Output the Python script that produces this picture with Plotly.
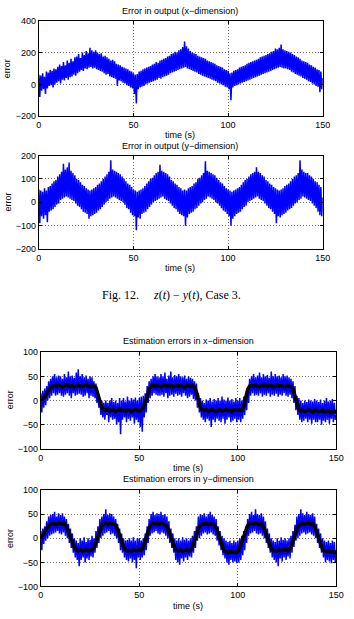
import numpy as np
import plotly.graph_objects as go

# ---------------- data ----------------
STEP_BLUE = 0.5   # s between samples of the noisy (blue) traces
STEP_BLACK = 1.0  # s between samples of the estimate (black) traces

X_TICKS = [0, 50, 100, 150]
Y1_TICKS = [-200, 0, 200, 400]
Y2_TICKS = [-200, -100, 0, 100, 200]
Y34_TICKS = [-100, -50, 0, 50, 100]

# Error in output (x-dimension)
out_x = [
    60, -80, 55, -40, 70, -30, 48, -60, 80, -25, 75, -10, 90, -5, 85, -20, 100, 0, 95, 10,
    110, 20, 125, 5, 115, 30, 140, 25, 120, 40, 150, 30, 135, 45, 160, 50, 145, 60, 170, 55,
    175, 70, 190, 80, 165, 90, 200, 85, 185, 100, 210, 95, 195, 105, 230, 110, 215, 100, 205, 105,
    215, 95, 200, 90, 190, 85, 195, 80, 175, 70, 180, 60, 170, 65, 160, 50, 150, 45, 155, 40,
    145, 35, 130, -10, 125, 25, 120, 20, 110, 10, 105, 5, 100, -5, 95, -10, 85, -20, 80, -25,
    70, -60, 60, -120, 65, -30, 80, -20, 85, -15, 95, -10, 100, 0, 105, 5, 110, 10, 115, 15,
    125, 20, 130, 25, 140, 30, 135, 40, 150, 35, 155, 45, 160, 50, 165, 55, 175, 60, 180, 70,
    190, 75, 195, 80, 205, 85, 200, 90, 215, 95, 220, 100, 235, 105, 270, 110, 240, 100, 225, 95,
    210, 90, 200, 85, 195, 80, 190, 75, 180, 65, 175, 60, 170, 55, 165, 50, 160, 45, 150, 40,
    145, 35, 140, 30, 135, 25, 130, 20, 120, 10, 115, 5, 110, 0, 105, -5, 95, -15, 90, -20,
    85, -30, 70, -100, 75, -20, 85, -10, 90, -5, 95, 0, 105, 5, 110, 10, 115, 15, 120, 20,
    130, 25, 135, 30, 140, 35, 145, 40, 150, 45, 155, 50, 160, 55, 170, 60, 175, 65, 180, 70,
    185, 75, 190, 80, 195, 85, 205, 90, 210, 95, 225, 100, 220, 105, 230, 110, 250, 105, 220, 100,
    215, 100, 210, 95, 205, 90, 200, 80, 190, 75, 185, 65, 175, 60, 170, 55, 160, 50, 150, 40,
    145, 35, 140, 30, 135, 20, 125, 15, 120, 5, 110, 0, 105, -10, 95, -15, 90, -50, 80, -30,
    40,
]

# Error in output (y-dimension)
out_y = [
    55, -90, 50, -60, 45, -70, 60, -55, 50, -85, 65, -40, 70, -35, 80, -30, 90, -20, 95, -10,
    110, -5, 120, 10, 130, 15, 165, 20, 140, 25, 150, 20, 170, 15, 135, 10, 125, 5, 115, -5,
    100, -15, 95, -20, 85, -30, 75, -40, 70, -45, 60, -50, 55, -70, 50, -60, 55, -55, 60, -50,
    65, -45, 75, -35, 80, -30, 90, -20, 100, -10, 110, 0, 120, 5, 130, 15, 180, 20, 140, 25,
    135, 20, 130, 15, 125, 10, 120, 5, 110, 0, 100, -10, 90, -25, 80, -30, 75, -45, 65, -55,
    55, -60, 50, -120, 45, -65, 50, -70, 55, -50, 60, -45, 70, -40, 80, -30, 90, -20, 100, -10,
    105, 0, 115, 5, 125, 10, 130, 15, 160, 20, 135, 25, 130, 15, 125, 10, 120, 5, 110, -5,
    95, -15, 90, -25, 80, -30, 75, -40, 65, -50, 60, -55, 50, -60, 55, -100, 50, -65, 60, -50,
    65, -45, 70, -40, 80, -30, 85, -25, 100, -15, 105, -5, 115, 0, 125, 10, 175, 15, 135, 25,
    130, 20, 125, 15, 120, 10, 115, 0, 105, -5, 95, -15, 85, -25, 80, -35, 70, -40, 60, -50,
    55, -60, 50, -100, 45, -70, 50, -60, 55, -50, 60, -45, 65, -40, 75, -30, 85, -20, 95, -15,
    100, 0, 110, 5, 120, 10, 125, 15, 130, 20, 150, 25, 130, 15, 125, 10, 115, 5, 110, -5,
    95, -15, 90, -25, 80, -30, 75, -40, 65, -50, 60, -90, 55, -60, 50, -65, 55, -55, 60, -50,
    70, -45, 75, -35, 80, -30, 90, -25, 100, -15, 110, -5, 115, 0, 125, 10, 180, 15, 140, 25,
    130, 20, 125, 15, 125, 10, 115, 5, 110, -5, 100, -15, 90, -25, 85, -40, 75, -55, 65, -60,
    20,
]

# Estimation errors in x-dimension: noisy (blue) and estimate (black)
est_x_noisy = [
    15, -25, 20, -15, 25, -10, 30, 0, 40, 5, 45, 10, 50, 15, 55, 10, 48, 12, 52, 15,
    50, 10, 45, 8, 55, 12, 48, 15, 60, 10, 50, 5, 52, 15, 47, 10, 58, 12, 65, 14,
    50, 12, 55, 8, 48, 10, 52, 15, 45, 5, 50, 10, 48, 8, 40, 5, 35, -5, 20, -15,
    5, -30, 0, -35, -5, -40, 0, -30, -5, -45, 0, -35, 5, -40, -3, -38, 0, -50, -5, -45,
    5, -70, 0, -40, 5, -35, -2, -45, 8, -38, 0, -42, 5, -35, 2, -48, 6, -40, 0, -45,
    5, -55, 8, -65, 10, -35, 15, -25, 30, -5, 40, 5, 45, 10, 50, 15, 55, 12, 50, 10,
    48, 10, 55, 12, 50, 8, 58, 15, 45, 5, 52, 10, 60, 12, 48, 8, 53, 14, 50, 10,
    55, 12, 50, 8, 48, 15, 52, 10, 45, 5, 50, 8, 47, 12, 45, 3, 40, 0, 35, -15,
    15, -25, 5, -35, 0, -40, -5, -45, 2, -38, 0, -42, 5, -55, -2, -40, 3, -45, 0, -38,
    5, -42, 0, -45, 8, -38, 2, -48, 0, -40, 6, -35, 0, -45, 3, -42, -2, -38, 5, -45,
    0, -40, 5, -45, 0, -38, 8, -30, 15, -20, 25, -5, 45, 10, 50, 15, 55, 10, 48, 12,
    52, 10, 58, 15, 48, 8, 55, 12, 50, 10, 53, 15, 47, 8, 60, 12, 50, 10, 55, 14,
    50, 8, 52, 12, 48, 10, 55, 15, 50, 10, 52, 8, 48, 12, 45, 5, 40, -5, 30, -20,
    10, -30, 5, -40, 0, -45, -5, -42, 0, -38, -3, -45, 2, -40, 0, -48, -2, -40, 3, -45,
    0, -45, -3, -40, 2, -50, -5, -42, 0, -45, 5, -40, -2, -48, 0, -38, 3, -45, -5, -40,
    -30,
]
est_x_smooth = [
    0, 3, 8, 15, 22, 27, 30, 31, 29, 32, 30, 28, 31, 33, 30, 29, 31, 28, 30, 32,
    30, 29, 31, 33, 30, 28, 31, 30, 27, 12, -5, -15, -19, -21, -18, -22, -20, -19, -23, -20,
    -18, -21, -20, -22, -19, -20, -23, -21, -18, -20, -22, -19, -15, -5, 10, 24, 30, 32, 29, 31,
    30, 28, 31, 33, 29, 30, 32, 28, 30, 31, 29, 32, 30, 27, 31, 30, 29, 32, 28, 18,
    0, -14, -20, -21, -19, -22, -20, -18, -21, -23, -20, -19, -22, -20, -18, -21, -20, -23, -19, -20,
    -21, -19, -20, -12, 8, 23, 30, 31, 29, 32, 30, 28, 31, 30, 33, 29, 30, 31, 28, 30,
    32, 29, 31, 30, 28, 31, 30, 29, 24, 10, -8, -18, -22, -20, -23, -21, -19, -22, -24, -20,
    -21, -23, -22, -20, -24, -22, -21, -25, -23, -22, -26,
]

# Estimation errors in y-dimension: noisy (blue) and estimate (black)
est_y_noisy = [
    15, -25, 20, -12, 25, -5, 35, 0, 45, 5, 48, 8, 50, 10, 55, 12, 45, 15, 52, 10,
    48, 8, 52, 12, 45, 5, 40, 0, 30, -10, 20, -20, 10, -30, 0, -40, -5, -45, -10, -58,
    0, -45, -5, -40, 2, -50, -8, -42, 0, -45, -3, -38, 5, -40, 0, -30, 15, -20, 25, -10,
    40, 0, 45, 5, 50, 10, 60, 12, 48, 15, 52, 8, 50, 10, 45, 5, 40, 0, 30, -10,
    20, -25, 10, -30, 0, -40, -5, -45, -3, -48, 0, -42, -5, -50, 2, -45, -5, -62, 0, -40,
    0, -45, -5, -40, 0, -35, 10, -25, 25, -10, 40, 5, 50, 10, 55, 12, 48, 15, 52, 10,
    50, 8, 55, 12, 48, 10, 50, 5, 45, 0, 35, -10, 20, -20, 10, -30, 0, -45, -5, -50,
    0, -55, -5, -42, 2, -48, -3, -40, 0, -45, -5, -38, 0, -40, 5, -30, 15, -20, 25, -5,
    45, 0, 50, 5, 48, 10, 52, 12, 45, 8, 50, 10, 55, 12, 48, 8, 45, 5, 40, -5,
    25, -15, 15, -25, 5, -35, 0, -42, -5, -50, -8, -55, -5, -45, -10, -50, -5, -48, -8, -52,
    -5, -50, 0, -45, 5, -35, 15, -25, 25, -10, 40, 5, 50, 10, 55, 12, 48, 15, 60, 10,
    50, 8, 48, 10, 52, 5, 45, 0, 35, -10, 20, -20, 10, -30, 0, -40, -5, -45, -8, -50,
    0, -58, -5, -42, 2, -48, -3, -40, 0, -45, -5, -38, 0, -42, 5, -30, 15, -18, 28, -5,
    45, 0, 50, 5, 60, 10, 52, 12, 48, 8, 55, 10, 50, 12, 48, 8, 52, 5, 45, 0,
    30, -10, 20, -20, 10, -30, 0, -40, -5, -50, -8, -45, -5, -48, -10, -52, -5, -45, -8, -50,
    -30,
]
est_y_smooth = [
    0, 5, 12, 20, 26, 29, 31, 30, 28, 32, 30, 29, 31, 25, 15, 3, -10, -19, -24, -26,
    -24, -27, -25, -23, -26, -25, -24, -20, -8, 5, 17, 26, 30, 32, 29, 31, 30, 28, 27, 18,
    5, -8, -18, -24, -26, -25, -27, -24, -25, -26, -23, -25, -18, -5, 10, 22, 29, 31, 30, 32,
    29, 31, 30, 28, 25, 15, 2, -10, -20, -25, -26, -24, -27, -25, -23, -26, -25, -18, -5, 8,
    20, 27, 30, 29, 31, 28, 30, 29, 28, 22, 10, -5, -18, -26, -28, -30, -27, -29, -28, -30,
    -27, -20, -8, 5, 18, 26, 30, 31, 29, 32, 30, 28, 30, 24, 12, 0, -12, -22, -26, -25,
    -27, -24, -26, -25, -23, -26, -25, -18, -5, 8, 20, 27, 30, 31, 29, 30, 32, 29, 30, 24,
    12, 0, -12, -22, -27, -28, -26, -29, -28, -30, -27,
]

t_blue = np.arange(len(out_x)) * STEP_BLUE
t_blue_y = np.arange(len(out_y)) * STEP_BLUE
t_est_x = np.arange(len(est_x_noisy)) * STEP_BLUE
t_est_y = np.arange(len(est_y_noisy)) * STEP_BLUE
t_bx = np.arange(len(est_x_smooth)) * STEP_BLACK
t_by = np.arange(len(est_y_smooth)) * STEP_BLACK

# ---------------- figure ----------------
W, H = 354, 619
BLUE = "#0000FF"
FONT = "Liberation Sans, Arial, Helvetica, sans-serif"
BLUE_W = 1.5


def px_x(p):
    return p / W


def px_y(p):
    return 1 - p / H


fig = go.Figure()
fig.add_trace(go.Scatter(x=t_blue, y=out_x, mode="lines", line=dict(color=BLUE, width=BLUE_W),
                         xaxis="x", yaxis="y", hoverinfo="skip"))
fig.add_trace(go.Scatter(x=t_blue_y, y=out_y, mode="lines", line=dict(color=BLUE, width=BLUE_W),
                         xaxis="x2", yaxis="y2", hoverinfo="skip"))
fig.add_trace(go.Scatter(x=t_est_x, y=est_x_noisy, mode="lines", line=dict(color=BLUE, width=BLUE_W),
                         xaxis="x3", yaxis="y3", hoverinfo="skip"))
fig.add_trace(go.Scatter(x=t_bx, y=est_x_smooth, mode="lines", line=dict(color="black", width=3.5),
                         xaxis="x3", yaxis="y3", hoverinfo="skip"))
fig.add_trace(go.Scatter(x=t_est_y, y=est_y_noisy, mode="lines", line=dict(color=BLUE, width=BLUE_W),
                         xaxis="x4", yaxis="y4", hoverinfo="skip"))
fig.add_trace(go.Scatter(x=t_by, y=est_y_smooth, mode="lines", line=dict(color="black", width=3.5),
                         xaxis="x4", yaxis="y4", hoverinfo="skip"))


def axis_common():
    return dict(
        ticks="inside", ticklen=3, tickwidth=1, tickcolor="black",
        showline=True, linecolor="black", linewidth=1, mirror="ticks",
        showgrid=True, gridcolor="#707070", griddash="1px,2px", gridwidth=1,
        zeroline=False, tickfont=dict(family=FONT, size=9, color="black"),
        fixedrange=True,
    )


def minus(v):
    return str(v).replace("-", "\u2212")


# panel pixel boxes: (left, right, top, bottom)
boxes = [
    (37, 330, 16, 113),
    (37, 330, 153, 248),
    (39, 344, 353, 451),
    (39, 344, 493, 591),
]
yticks = [Y1_TICKS, Y2_TICKS, Y34_TICKS, Y34_TICKS]

layout = dict(
    width=W, height=H, margin=dict(l=0, r=0, t=0, b=0),
    paper_bgcolor="white", plot_bgcolor="white", showlegend=False,
)
for i, (l, r, t, b) in enumerate(boxes):
    n = "" if i == 0 else str(i + 1)
    xa = axis_common()
    xa.update(domain=[px_x(l), px_x(r)], anchor="y" + n, range=[0, 150],
              tickvals=X_TICKS, ticktext=[str(v) for v in X_TICKS])
    ya = axis_common()
    yt = yticks[i]
    ya.update(domain=[px_y(b), px_y(t)], anchor="x" + n, range=[yt[0], yt[-1]],
              tickvals=yt, ticktext=[minus(v) for v in yt])
    layout["xaxis" + n] = xa
    layout["yaxis" + n] = ya

annots = []


def label(text, x, y, size=9, angle=0, family=FONT):
    annots.append(dict(text=text, x=px_x(x), y=px_y(y), xref="paper", yref="paper",
                       showarrow=False, xanchor="center", yanchor="middle",
                       textangle=angle, font=dict(family=family, size=size, color="black")))


label("Error in output (x\u2212dimension)", 183, 6.5)
label("time (s)", 183, 132)
label("Error in output (y\u2212dimension)", 183, 143.5)
label("time (s)", 183, 267)
label("Estimation errors in x\u2212dimension", 191, 342)
label("time (s)", 191, 471)
label("Estimation errors in y\u2212dimension", 191, 482)
label("time (s)", 191, 611)
label("error", 5, 64.5, angle=-90)
label("error", 5, 200, angle=-90)
label("error", 7, 401, angle=-90)
label("error", 7, 542, angle=-90)
label("Fig. 12.\u00a0\u00a0\u00a0\u00a0\u00a0<i>z</i>(<i>t</i>) \u2212 <i>y</i>(<i>t</i>), Case 3.",
      174, 295, size=12, family="Liberation Serif, Times New Roman, serif")

layout["annotations"] = annots
fig.update_layout(**layout)
fig.write_html("out.html")
